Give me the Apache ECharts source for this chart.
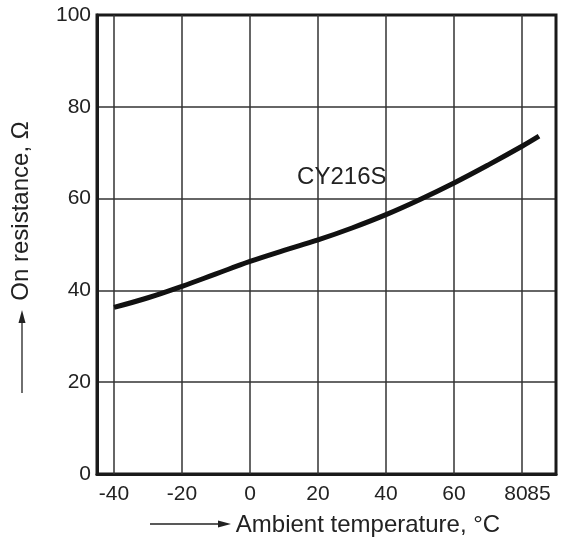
<!DOCTYPE html>
<html>
<head>
<meta charset="utf-8">
<script src="https://cdn.jsdelivr.net/npm/echarts@6/dist/echarts.min.js"></script>
<style>
html,body{margin:0;padding:0;background:#fff;}
#chart{width:561px;height:537px;}
</style>
</head>
<body>
<div id="chart"></div>
<script>
// Data
const temperature = [-40, -30, -20, -10, 0, 10, 20, 30, 40, 50, 60, 70, 80, 85];
const resistance  = [36.3, 38.4, 40.9, 43.6, 46.3, 48.7, 51.0, 53.6, 56.5, 59.8, 63.4, 67.3, 71.4, 73.6];
const xTickLabels = [-40, -20, 0, 20, 40, 60];
const xLabel80 = [80];
const xExtraLabels = [85];
const xGridLines  = [-40, -20, 0, 20, 40, 60, 80];
const seriesName  = 'CY216S';
const seriesLabelAt = [27, 64.7];
const xTitle = 'Ambient temperature, °C';
const yTitle = 'On resistance, Ω';

const FONT = '"Liberation Sans", Arial, Helvetica, sans-serif';
const points = temperature.map((t, i) => [t, resistance[i]]);
const labelStyle = {fontFamily: FONT, fontSize: 21, color: '#222', margin: 10};

const chart = echarts.init(document.getElementById('chart'), null, {renderer: 'canvas'});
chart.setOption({
  animation: false,
  backgroundColor: '#fff',
  grid: {left: 97, right: 5, top: 15, bottom: 63, show: true, borderColor: '#1a1a1a', borderWidth: 3, z: 3},
  xAxis: [{
    type: 'value', min: -45, max: 90,
    axisLine: {show: true, onZero: false, lineStyle: {color: '#1a1a1a', width: 3}},
    axisTick: {show: false},
    splitLine: {show: false},
    axisLabel: Object.assign({customValues: xTickLabels}, labelStyle)
  }, {
    type: 'value', min: -45, max: 90, position: 'bottom',
    axisLine: {show: false, onZero: false},
    axisTick: {show: false},
    splitLine: {show: false},
    axisLabel: Object.assign({customValues: xExtraLabels}, labelStyle)
  }, {
    // same scale, nudged ~6px so that "80" sits just left of its gridline as in the reference
    type: 'value', min: -43.25, max: 91.75, position: 'bottom',
    axisLine: {show: false, onZero: false},
    axisTick: {show: false},
    splitLine: {show: false},
    axisLabel: Object.assign({customValues: xLabel80}, labelStyle)
  }],
  yAxis: {
    type: 'value', min: 0, max: 100, interval: 20,
    axisLine: {show: true, onZero: false, lineStyle: {color: '#1a1a1a', width: 3}},
    axisTick: {show: false},
    splitLine: {show: true, lineStyle: {color: '#333', width: 1.5}},
    axisLabel: {fontFamily: FONT, fontSize: 21, color: '#222', margin: 6}
  },
  graphic: [
    {type: 'text', x: 368, y: 525, style: {text: xTitle, font: '24px ' + FONT, fill: '#222', textAlign: 'center', textVerticalAlign: 'middle'}},
    {type: 'line', shape: {x1: 150, y1: 524, x2: 222, y2: 524}, style: {stroke: '#222', lineWidth: 1.3}},
    {type: 'polygon', shape: {points: [[218, 520.5], [231, 524], [218, 527.5]]}, style: {fill: '#222'}},
    {type: 'text', x: 21, y: 211, rotation: Math.PI / 2, style: {text: yTitle, font: '24px ' + FONT, fill: '#222', textAlign: 'center', textVerticalAlign: 'middle'}},
    {type: 'line', shape: {x1: 22, y1: 393, x2: 22, y2: 320}, style: {stroke: '#222', lineWidth: 1.3}},
    {type: 'polygon', shape: {points: [[18.5, 323], [22, 310], [25.5, 323]]}, style: {fill: '#222'}}
  ],
  series: [
    {
      type: 'line', data: points, symbol: 'none', silent: true, z: 1,
      lineStyle: {opacity: 0},
      markLine: {
        silent: true, symbol: ['none', 'none'], animation: false,
        label: {show: false},
        lineStyle: {color: '#333', width: 1.5, type: 'solid'},
        data: xGridLines.map(v => ({xAxis: v}))
      }
    },
    {
      name: seriesName, type: 'line', data: points, smooth: 0.4, symbol: 'none', z: 5,
      lineStyle: {color: '#111', width: 5},
      markPoint: {
        symbol: 'circle', symbolSize: 0, silent: true,
        label: {show: true, position: 'inside', formatter: seriesName, fontFamily: FONT, fontSize: 24, color: '#222'},
        data: [{coord: seriesLabelAt}]
      }
    }
  ]
});
</script>
</body>
</html>
